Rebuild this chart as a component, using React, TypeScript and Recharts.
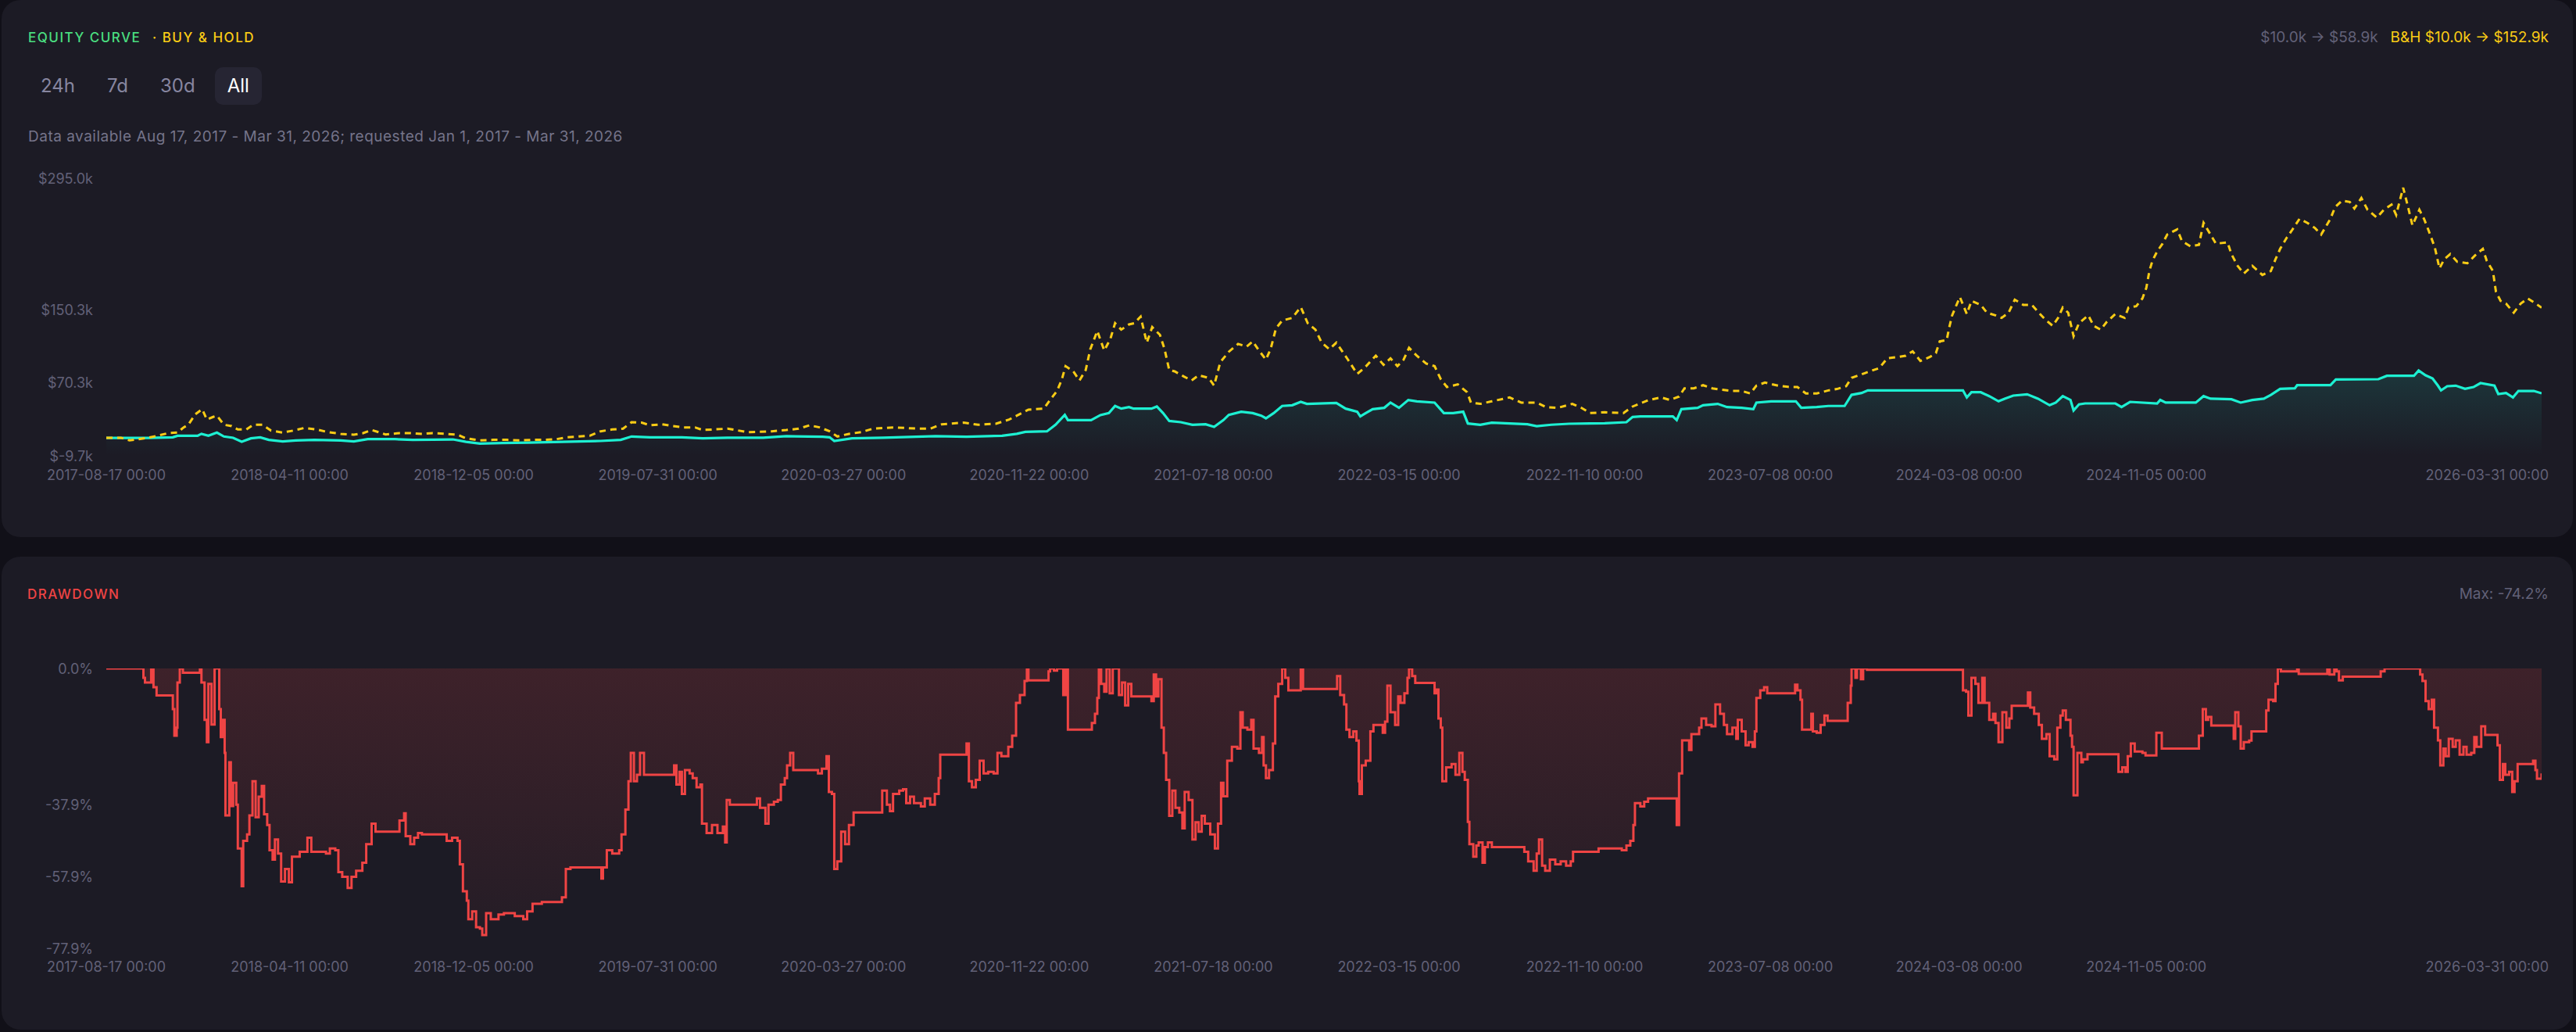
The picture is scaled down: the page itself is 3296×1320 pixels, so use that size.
import React from 'react';
import { ComposedChart, Line, Area, XAxis, YAxis } from 'recharts';

// ---------- tick labels ----------
const START_DATE = '2017-08-17';
const xTickLabels = [
  '2017-08-17 00:00', '2018-04-11 00:00', '2018-12-05 00:00', '2019-07-31 00:00',
  '2020-03-27 00:00', '2020-11-22 00:00', '2021-07-18 00:00', '2022-03-15 00:00',
  '2022-11-10 00:00', '2023-07-08 00:00', '2024-03-08 00:00', '2024-11-05 00:00',
  '2026-03-31 00:00',
];
const equityTicks = [-9.7, 70.3, 150.3, 295.0];
const drawdownTicks = [0, -37.9, -57.9, -77.9];

// ---------- series (x = days since 2017-08-17, values in $k / %) ----------
const buyHoldDays = [
  0, 19, 30, 54, 66, 80, 92, 100, 106, 115,
  124, 130, 138, 143, 152, 162, 170, 181, 190, 202,
  213, 228, 242, 256, 272, 286, 303, 320, 332, 343,
  361, 379, 393, 408, 422, 439, 454, 465, 483, 500,
  518, 535, 552, 566, 582, 596, 611, 625, 639, 654,
  668, 679, 692, 703, 718, 732, 746, 761, 771, 803,
  829, 860, 879, 895, 909, 922, 935, 945, 960, 976,
  991, 1019, 1049, 1065, 1080, 1108, 1127, 1150, 1167, 1177,
  1192, 1212, 1220, 1229, 1235, 1240, 1250, 1258, 1266, 1272,
  1281, 1290, 1298, 1304, 1312, 1322, 1329, 1337, 1345, 1352,
  1362, 1368, 1374, 1381, 1393, 1403, 1412, 1425, 1432, 1440,
  1451, 1463, 1474, 1482, 1490, 1499, 1505, 1512, 1520, 1533,
  1544, 1553, 1563, 1571, 1581, 1590, 1598, 1605, 1617, 1627,
  1641, 1651, 1660, 1669, 1677, 1684, 1694, 1706, 1717, 1725,
  1733, 1747, 1759, 1764, 1776, 1791, 1814, 1829, 1849, 1861,
  1876, 1895, 1907, 1918, 1937, 1961, 1973, 1994, 2010, 2021,
  2033, 2040, 2052, 2064, 2076, 2087, 2102, 2114, 2125, 2133,
  2144, 2161, 2176, 2186, 2197, 2211, 2226, 2237, 2249, 2256,
  2273, 2292, 2302, 2315, 2326, 2335, 2345, 2357, 2365, 2370,
  2379, 2382, 2386, 2396, 2405, 2411, 2423, 2431, 2442, 2450,
  2459, 2467, 2478, 2489, 2498, 2506, 2516, 2523, 2529, 2536,
  2543, 2550, 2562, 2569, 2578, 2586, 2597, 2609, 2614, 2624,
  2632, 2637, 2641, 2645, 2651, 2658, 2664, 2677, 2683, 2694,
  2705, 2711, 2719, 2727, 2742, 2747, 2755, 2763, 2774, 2787,
  2798, 2804, 2810, 2819, 2825, 2835, 2845, 2855, 2863, 2875,
  2881, 2890, 2900, 2906, 2915, 2923, 2935, 2944, 2954, 2960,
  2969, 2975, 2981, 2990, 2996, 3002, 3010, 3016, 3022, 3030,
  3039, 3052, 3062, 3072, 3077, 3085, 3089, 3095, 3102, 3112,
  3121, 3130, 3138, 3148,
];
const buyHoldValues = [
  10.0, 10.1, 7.2, 10.1, 12.3, 15.2, 15.8, 21.5, 24.4, 35.8,
  41.5, 30.1, 33.0, 34.4, 24.4, 23.0, 19.2, 19.2, 24.4, 24.4,
  18.0, 15.8, 18.0, 20.9, 19.2, 16.4, 14.4, 13.5, 15.2, 18.6,
  13.8, 15.2, 15.2, 14.4, 15.2, 14.4, 13.5, 9.5, 7.2, 7.8,
  7.8, 7.2, 7.8, 7.8, 8.6, 10.6, 11.5, 12.3, 17.2, 19.2,
  20.1, 27.2, 26.7, 23.8, 24.9, 23.0, 21.5, 21.5, 18.6, 20.1,
  16.3, 17.2, 18.6, 20.1, 23.8, 21.5, 17.2, 11.5, 14.4, 16.3,
  20.1, 21.5, 20.1, 20.1, 24.9, 26.7, 24.4, 25.5, 30.1, 34.4,
  41.0, 42.1, 51.6, 61.6, 73.6, 88.7, 83.0, 73.0, 84.4, 107.3,
  127.4, 105.9, 118.8, 135.9, 128.8, 134.5, 135.9, 143.1, 114.5, 131.6,
  123.1, 107.3, 84.4, 83.0, 77.3, 73.0, 78.7, 75.8, 67.3, 93.0,
  104.5, 113.1, 110.2, 115.9, 105.9, 95.9, 107.3, 130.2, 138.8, 141.7,
  153.6, 135.9, 128.8, 114.5, 107.3, 114.5, 104.5, 95.9, 80.2, 87.3,
  100.2, 90.2, 97.3, 88.7, 95.9, 108.8, 100.2, 91.6, 88.7, 74.4,
  65.8, 68.7, 60.1, 48.7, 47.3, 50.1, 54.4, 48.7, 48.7, 43.8,
  42.9, 47.3, 42.9, 37.2, 38.1, 37.2, 44.4, 51.6, 54.4, 51.6,
  55.3, 64.4, 64.4, 67.8, 64.4, 63.0, 61.5, 61.5, 58.7, 67.3,
  70.7, 67.3, 65.8, 65.8, 58.7, 58.7, 62.1, 63.6, 66.7, 75.9,
  81.0, 86.7, 97.3, 98.7, 100.2, 105.0, 94.5, 98.7, 103.0, 115.9,
  117.3, 130.2, 144.5, 164.6, 146.0, 160.3, 156.0, 147.4, 144.5, 141.7,
  147.4, 161.7, 156.0, 156.0, 147.4, 140.2, 133.0, 141.7, 153.1, 147.4,
  121.6, 135.9, 144.5, 133.0, 128.8, 137.4, 146.0, 141.7, 153.1, 154.5,
  163.1, 174.6, 193.2, 204.6, 214.6, 223.2, 233.2, 238.9, 226.1, 220.3,
  221.8, 246.1, 234.6, 223.2, 224.6, 211.8, 198.9, 190.3, 198.9, 188.9,
  193.2, 206.0, 217.5, 230.4, 237.5, 250.4, 246.1, 240.4, 233.2, 250.4,
  263.3, 270.4, 269.0, 261.8, 273.3, 260.4, 251.8, 260.4, 266.1, 254.7,
  284.7, 264.7, 243.2, 260.4, 250.4, 237.5, 218.9, 196.0, 206.0, 211.8,
  203.2, 201.7, 210.3, 217.5, 204.6, 193.2, 170.3, 160.3, 157.4, 147.4,
  157.4, 163.1, 158.8, 152.9,
];

const equityDays = [
  0, 54, 86, 92, 118, 123, 132, 143, 152, 164,
  175, 187, 199, 210, 228, 245, 269, 303, 320, 338,
  373, 396, 448, 465, 483, 512, 546, 590, 639, 665,
  679, 703, 744, 771, 803, 849, 879, 926, 935, 941,
  964, 1004, 1072, 1112, 1158, 1177, 1188, 1216, 1227, 1239,
  1243, 1273, 1285, 1296, 1304, 1312, 1322, 1328, 1351, 1358,
  1366, 1374, 1389, 1404, 1421, 1432, 1444, 1451, 1467, 1482,
  1493, 1499, 1509, 1520, 1533, 1544, 1552, 1590, 1602, 1617,
  1621, 1628, 1637, 1652, 1660, 1671, 1683, 1694, 1717, 1729,
  1741, 1754, 1760, 1776, 1791, 1837, 1849, 1868, 1891, 1937,
  1965, 1973, 1983, 2025, 2030, 2036, 2057, 2064, 2083, 2095,
  2114, 2129, 2133, 2152, 2184, 2191, 2211, 2226, 2247, 2256,
  2269, 2277, 2400, 2405, 2411, 2423, 2434, 2446, 2454, 2465,
  2483, 2497, 2512, 2520, 2529, 2539, 2543, 2550, 2558, 2597,
  2605, 2616, 2651, 2655, 2662, 2701, 2711, 2720, 2747, 2759,
  2774, 2789, 2798, 2810, 2829, 2832, 2875, 2882, 2937, 2948,
  2983, 2989, 2998, 3007, 3014, 3018, 3026, 3037, 3049, 3060,
  3069, 3087, 3092, 3102, 3111, 3118, 3138, 3148,
];
const equityValues = [
  10.0, 10.0, 10.6, 12.3, 12.3, 14.4, 12.3, 15.8, 11.5, 10.1,
  5.7, 9.5, 10.6, 7.8, 6.1, 7.2, 7.8, 7.2, 6.1, 8.6,
  8.6, 7.8, 8.3, 5.7, 3.7, 4.3, 4.8, 5.7, 6.6, 7.8,
  11.5, 10.6, 10.6, 9.5, 10.1, 10.1, 11.8, 11.2, 10.6, 6.6,
  9.5, 10.1, 11.8, 11.2, 12.3, 14.4, 16.6, 17.2, 24.4, 35.2,
  29.5, 29.5, 35.0, 37.2, 45.0, 42.1, 43.8, 42.1, 42.1, 44.4,
  37.2, 28.6, 27.2, 24.4, 24.9, 22.1, 29.5, 35.2, 38.7, 37.2,
  34.4, 31.5, 37.2, 45.0, 45.8, 49.5, 47.3, 48.4, 42.1, 38.7,
  33.5, 37.2, 41.5, 43.0, 48.7, 43.0, 51.6, 50.1, 48.7, 37.2,
  37.2, 38.7, 25.8, 24.4, 26.7, 24.9, 22.9, 24.4, 25.5, 26.1,
  27.2, 32.9, 33.5, 33.5, 29.5, 41.5, 43.0, 45.8, 47.3, 43.8,
  43.0, 41.5, 48.7, 50.1, 50.1, 43.0, 43.8, 45.0, 45.0, 57.2,
  59.3, 62.1, 62.1, 54.4, 60.1, 60.1, 55.8, 50.1, 53.0, 56.4,
  57.8, 53.0, 45.8, 48.7, 55.8, 51.6, 40.1, 46.7, 47.8, 47.8,
  43.8, 49.5, 47.8, 51.6, 48.7, 48.7, 55.8, 53.0, 52.4, 48.7,
  51.6, 53.0, 57.2, 63.8, 64.4, 67.8, 67.8, 74.1, 74.4, 78.1,
  78.1, 83.9, 78.7, 75.3, 67.3, 62.1, 66.7, 67.3, 63.8, 65.8,
  70.1, 67.3, 58.1, 59.3, 54.4, 61.5, 61.5, 58.9,
];

const drawdownDays = [
  0, 48, 50, 58, 61, 65, 86, 88, 91, 92,
  95, 99, 121, 123, 127, 130, 132, 136, 140, 146,
  148, 151, 153, 154, 159, 161, 164, 168, 170, 175,
  177, 182, 185, 189, 193, 197, 201, 204, 208, 211,
  215, 218, 222, 226, 231, 236, 240, 250, 260, 265,
  284, 289, 296, 300, 305, 312, 317, 323, 331, 336,
  343, 348, 379, 385, 387, 393, 398, 403, 408, 440,
  447, 454, 457, 461, 466, 468, 473, 478, 483, 486,
  491, 497, 507, 514, 528, 539, 544, 551, 563, 589,
  594, 600, 640, 642, 647, 654, 663, 666, 671, 675,
  678, 682, 686, 690, 695, 734, 737, 741, 744, 748,
  754, 758, 763, 768, 770, 776, 783, 790, 797, 800,
  802, 806, 841, 845, 852, 856, 863, 868, 872, 877,
  880, 884, 888, 920, 925, 931, 934, 938, 941, 945,
  950, 955, 960, 966, 1003, 1009, 1013, 1017, 1025, 1030,
  1034, 1039, 1044, 1053, 1058, 1065, 1071, 1076, 1078, 1112,
  1115, 1119, 1124, 1129, 1134, 1140, 1147, 1152, 1157, 1166,
  1171, 1176, 1181, 1187, 1190, 1192, 1218, 1220, 1225, 1229,
  1237, 1240, 1243, 1274, 1278, 1281, 1283, 1286, 1290, 1293,
  1297, 1301, 1309, 1313, 1317, 1321, 1325, 1351, 1354, 1357,
  1360, 1364, 1367, 1370, 1374, 1378, 1382, 1387, 1391, 1394,
  1399, 1404, 1408, 1412, 1416, 1420, 1427, 1433, 1437, 1441,
  1444, 1449, 1455, 1462, 1466, 1469, 1475, 1480, 1483, 1490,
  1494, 1496, 1499, 1503, 1508, 1511, 1515, 1520, 1524, 1528,
  1544, 1547, 1591, 1595, 1600, 1603, 1607, 1612, 1616, 1619,
  1620, 1623, 1628, 1634, 1638, 1650, 1653, 1656, 1660, 1666,
  1670, 1673, 1678, 1682, 1684, 1688, 1692, 1717, 1720, 1722,
  1725, 1727, 1732, 1739, 1744, 1749, 1753, 1756, 1760, 1762,
  1767, 1771, 1774, 1779, 1782, 1786, 1791, 1833, 1838, 1845,
  1849, 1852, 1856, 1860, 1866, 1873, 1880, 1887, 1893, 1896,
  1929, 1959, 1965, 1970, 1974, 1976, 1983, 1988, 1993, 2030,
  2033, 2037, 2046, 2049, 2059, 2062, 2068, 2075, 2080, 2086,
  2091, 2095, 2102, 2107, 2109, 2114, 2119, 2123, 2128, 2131,
  2133, 2138, 2143, 2147, 2183, 2186, 2190, 2192, 2204, 2206,
  2211, 2216, 2221, 2225, 2251, 2255, 2256, 2261, 2263, 2268,
  2271, 2276, 2400, 2404, 2407, 2411, 2416, 2420, 2425, 2428,
  2434, 2439, 2442, 2446, 2451, 2456, 2460, 2463, 2484, 2487,
  2492, 2498, 2502, 2508, 2512, 2518, 2522, 2526, 2529, 2533,
  2539, 2541, 2543, 2548, 2553, 2555, 2561, 2601, 2606, 2610,
  2613, 2617, 2622, 2632, 2636, 2650, 2657, 2705, 2710, 2714,
  2717, 2721, 2750, 2752, 2756, 2759, 2763, 2770, 2773, 2792,
  2795, 2801, 2804, 2807, 2811, 2832, 2834, 2871, 2874, 2880,
  2883, 2886, 2891, 2940, 2945, 2991, 2994, 2998, 3002, 3006,
  3009, 3014, 3017, 3021, 3024, 3028, 3033, 3037, 3042, 3047,
  3051, 3057, 3061, 3064, 3070, 3075, 3091, 3094, 3098, 3101,
  3106, 3110, 3113, 3117, 3137, 3140, 3142, 3148,
];
const drawdownValues = [
  0, -2.6, -3.9, 0, -5.2, -7.5, -11.3, -18.7, -16.5, -3.9,
  0, -1.2, 0, -3.9, -14.3, -20.5, -4.3, -15.6, 0, -11.3,
  -19.1, -14.3, -23.5, -40.9, -26.1, -38.3, -31.8, -37.9, -50.1, -60.6,
  -48.0, -46.2, -40.9, -31.4, -41.4, -35.7, -32.7, -40.6, -43.6, -50.6,
  -53.2, -47.6, -51.5, -59.3, -55.8, -59.5, -52.4, -51.0, -47.1, -51.0,
  -51.5, -50.1, -50.6, -56.7, -58.0, -61.1, -58.0, -56.3, -54.1, -48.9,
  -43.2, -45.4, -42.3, -40.3, -46.7, -48.9, -47.1, -45.8, -46.2, -48.0,
  -47.1, -48.0, -54.5, -62.0, -64.6, -69.8, -67.6, -72.0, -72.4, -74.2,
  -68.1, -69.8, -68.5, -68.1, -68.9, -69.8, -67.6, -65.5, -65.0, -63.7,
  -55.8, -55.4, -58.5, -55.4, -50.6, -51.5, -50.6, -46.2, -39.3, -31.4,
  -23.5, -31.4, -29.6, -23.5, -29.6, -27.0, -32.3, -28.8, -34.9, -28.3,
  -29.2, -30.5, -33.1, -32.3, -43.2, -45.8, -43.6, -45.8, -44.0, -48.4,
  -36.6, -37.9, -36.2, -38.8, -43.2, -37.9, -37.1, -36.6, -32.3, -30.5,
  -27.0, -23.5, -28.3, -29.2, -27.9, -24.4, -34.4, -34.9, -55.8, -53.7,
  -45.4, -48.9, -43.6, -40.1, -34.0, -37.9, -39.7, -34.9, -34.0, -33.6,
  -37.5, -35.7, -37.5, -38.4, -36.2, -37.9, -34.9, -30.5, -24.0, -20.9,
  -31.4, -33.1, -31.0, -25.7, -29.2, -28.8, -29.2, -23.5, -24.4, -21.8,
  -18.7, -9.6, -7.4, -3.5, 0, -3.3, -0.8, 0, -0.6, 0,
  -7.4, 0, -17.0, -15.2, -12.6, -8.2, 0, -4.3, -6.5, 0,
  -6.9, 0, -7.4, -3.9, -10.3, -4.3, -7.8, -9.1, -1.7, -7.8,
  -3.0, -16.5, -23.5, -31.0, -41.0, -34.0, -38.8, -40.1, -44.5, -34.4,
  -36.6, -47.6, -42.8, -45.4, -41.0, -43.2, -46.2, -50.1, -43.2, -31.8,
  -35.6, -25.7, -21.8, -22.3, -12.2, -16.5, -17.0, -14.3, -22.3, -23.5,
  -19.1, -27.0, -30.5, -28.3, -20.9, -7.8, -4.3, 0, -2.6, -6.1,
  0, -5.7, -2.1, -7.4, -10.0, -17.0, -19.1, -17.5, -20.1, -31.4,
  -34.9, -27.0, -25.7, -17.5, -15.7, -17.9, -14.8, -4.8, -12.2, -15.7,
  -7.8, -9.6, -6.9, -2.6, 0, -2.1, -4.0, -6.9, -5.9, -13.9,
  -16.5, -31.4, -27.5, -26.6, -29.6, -23.5, -28.8, -31.0, -42.7, -48.9,
  -52.4, -49.3, -48.4, -54.1, -49.7, -48.4, -49.7, -51.0, -53.7, -56.3,
  -51.5, -47.6, -54.9, -56.3, -53.2, -54.5, -53.7, -54.9, -53.7, -51.0,
  -50.1, -50.6, -49.3, -48.0, -43.6, -37.5, -38.4, -37.1, -36.2, -43.6,
  -29.2, -20.0, -22.7, -18.3, -16.5, -13.9, -15.7, -16.1, -10.0, -12.6,
  -15.7, -18.3, -16.5, -19.6, -14.3, -17.5, -21.4, -20.5, -21.8, -17.5,
  -8.2, -6.1, -5.2, -6.9, -4.5, -6.1, -8.7, -17.0, -12.6, -17.5,
  -17.9, -15.7, -13.1, -14.6, -9.6, -4.8, 0, -2.6, 0, -3.0,
  0, -0.4, -6.1, -6.5, -13.1, -2.6, -4.3, -9.6, -2.6, -9.6,
  -14.3, -12.6, -15.2, -20.5, -12.2, -16.5, -13.9, -10.4, -6.7, -10.9,
  -12.6, -15.7, -19.6, -18.3, -24.4, -25.3, -16.5, -13.1, -11.7, -14.3,
  -18.7, -21.8, -35.3, -23.5, -26.1, -25.3, -23.9, -28.8, -27.5, -28.8,
  -24.4, -20.9, -23.1, -23.5, -24.2, -17.9, -22.3, -18.7, -11.3, -14.3,
  -13.5, -15.9, -19.6, -12.2, -16.1, -22.3, -20.5, -20.1, -17.5, -11.7,
  -8.7, -9.1, -4.3, 0, -0.8, 0, -1.5, 0, -1.7, 0,
  -0.8, -3.3, -2.3, -0.8, 0, -1.7, -3.5, -9.1, -11.3, -8.7,
  -16.5, -20.0, -27.0, -22.3, -24.4, -19.6, -21.8, -20.0, -24.0, -21.8,
  -24.0, -23.5, -19.1, -21.8, -16.1, -18.5, -21.4, -31.0, -26.6, -29.6,
  -28.8, -34.4, -31.4, -26.6, -25.7, -28.3, -30.7, -29.2,
];

// ---------- derived tables ----------
const dayOf = (label: string) =>
  Math.round((Date.parse(label.slice(0, 10) + 'T00:00:00Z') - Date.parse(START_DATE + 'T00:00:00Z')) / 86400000);
const xTickDays = xTickLabels.map(dayOf);
const lastTickDay = xTickDays[xTickDays.length - 1];
const labelByDay = new Map<number, string>(xTickDays.map((d, i) => [d, xTickLabels[i]]));

const equityData = equityDays.map((d, i) => ({ d, v: equityValues[i] }));
const buyHoldData = buyHoldDays.map((d, i) => ({ d, v: buyHoldValues[i] }));
const drawdownData = drawdownDays.map((d, i) => ({ d, v: drawdownValues[i] }));

// ---------- styling ----------
const FONT = 'Inter, "Noto Sans", sans-serif';
const PAGE_BG = '#111018';
const CARD_BG = '#1c1b25';
const AXIS_TEXT = '#626178';
const TEAL = '#1df0d2';
const YELLOW = '#facc15';
const RED = '#ef4444';
const GREEN = '#4ade80';

const XTick = (props: any) => {
  const { x, y, payload } = props;
  const isLast = payload.value === lastTickDay;
  return (
    <text
      x={isLast ? x + 9 : x}
      y={y}
      dy={6.5}
      textAnchor={isLast ? 'end' : 'middle'}
      fill={AXIS_TEXT}
      fontSize={18}
      fontFamily={FONT}
    >
      {labelByDay.get(payload.value)}
    </text>
  );
};

const makeYTick = (fmt: (v: number) => string) => (props: any) => {
  const { x, y, payload } = props;
  return (
    <text x={x} y={y} dy={6.5} textAnchor="end" fill={AXIS_TEXT} fontSize={18} fontFamily={FONT}>
      {fmt(payload.value)}
    </text>
  );
};
const EquityYTick = makeYTick((v) => `$${v.toFixed(1)}k`);
const DrawdownYTick = makeYTick((v) => `${v.toFixed(1)}%`);

const cardStyle = (top: number, height: number): React.CSSProperties => ({
  position: 'absolute',
  left: 2,
  top,
  width: 3290,
  height,
  background: CARD_BG,
  borderRadius: 24,
});

const textAt = (left: number | undefined, right: number | undefined, centerY: number, extra: React.CSSProperties = {}): React.CSSProperties => ({
  position: 'absolute',
  left,
  right,
  top: centerY - 12,
  height: 24,
  lineHeight: '24px',
  fontSize: 19,
  whiteSpace: 'nowrap',
  ...extra,
});

const ranges = ['24h', '7d', '30d', 'All'];

export default function App() {
  return (
    <div
      style={{
        position: 'relative',
        width: 3296,
        height: 1320,
        background: PAGE_BG,
        overflow: 'hidden',
        fontFamily: FONT,
      }}
    >
      <style>{`body{margin:0;background:${PAGE_BG};}`}</style>

      {/* ---------- Equity card ---------- */}
      <div style={cardStyle(0, 687)} />
      <div style={textAt(36, undefined, 48, { color: GREEN, fontSize: 17, letterSpacing: 1.5, fontWeight: 500 })}>
        EQUITY CURVE
      </div>
      <div style={textAt(195, undefined, 48, { color: YELLOW, fontSize: 17, letterSpacing: 1.5, fontWeight: 500 })}>
        · BUY &amp; HOLD
      </div>
      <div style={textAt(undefined, 35, 48, { display: 'flex', gap: 16 })}>
        <span style={{ color: AXIS_TEXT }}>$10.0k → $58.9k</span>
        <span style={{ color: YELLOW }}>B&amp;H $10.0k → $152.9k</span>
      </div>
      <div style={{ position: 'absolute', left: 36, top: 86, height: 48, display: 'flex', gap: 9 }}>
        {ranges.map((r) => (
          <div
            key={r}
            style={{
              height: 48,
              lineHeight: '48px',
              padding: '0 16px',
              fontSize: 24,
              borderRadius: 10,
              color: r === 'All' ? '#ffffff' : '#8786a0',
              background: r === 'All' ? '#262533' : 'transparent',
            }}
          >
            {r}
          </div>
        ))}
      </div>
      <div style={textAt(36, undefined, 175, { color: '#75748a', letterSpacing: 0.5 })}>
        Data available Aug 17, 2017 - Mar 31, 2026; requested Jan 1, 2017 - Mar 31, 2026
      </div>

      <div style={{ position: 'absolute', left: 0, top: 0 }}>
        <ComposedChart
          width={3296}
          height={687}
          data={equityData}
          margin={{ top: 228, right: 44, bottom: 64, left: 36 }}
        >
          <defs>
            <linearGradient id="eqFill" x1="0" y1="0" x2="0" y2="1">
              <stop offset="0%" stopColor={TEAL} stopOpacity={0.13} />
              <stop offset="100%" stopColor={TEAL} stopOpacity={0} />
            </linearGradient>
          </defs>
          <XAxis
            type="number"
            dataKey="d"
            domain={[0, lastTickDay]}
            ticks={xTickDays}
            interval={0}
            tick={XTick}
            tickSize={0}
            tickMargin={24}
            axisLine={false}
            tickLine={false}
            height={40}
            allowDataOverflow
          />
          <YAxis
            type="number"
            domain={[equityTicks[0], equityTicks[equityTicks.length - 1]]}
            ticks={equityTicks}
            interval={0}
            tick={EquityYTick}
            tickSize={0}
            tickMargin={17}
            axisLine={false}
            tickLine={false}
            width={100}
            allowDataOverflow
          />
          <Area
            dataKey="v"
            type="linear"
            stroke={TEAL}
            strokeWidth={3.2}
            fill="url(#eqFill)"
            fillOpacity={1}
            baseValue="dataMin"
            dot={false}
            activeDot={false}
            isAnimationActive={false}
          />
          <Line
            data={buyHoldData}
            dataKey="v"
            type="linear"
            stroke={YELLOW}
            strokeWidth={3}
            strokeDasharray="8 6"
            dot={false}
            activeDot={false}
            isAnimationActive={false}
          />
        </ComposedChart>
      </div>

      {/* ---------- Drawdown card ---------- */}
      <div style={cardStyle(712, 605)} />
      <div style={textAt(35, undefined, 760, { color: RED, fontSize: 17, letterSpacing: 1.5, fontWeight: 500 })}>
        DRAWDOWN
      </div>
      <div style={textAt(undefined, 35, 760, { color: AXIS_TEXT })}>Max: -74.2%</div>

      <div style={{ position: 'absolute', left: 0, top: 712 }}>
        <ComposedChart
          width={3296}
          height={605}
          data={drawdownData}
          margin={{ top: 143, right: 44, bottom: 64, left: 36 }}
        >
          <defs>
            <linearGradient id="ddFill" x1="0" y1="0" x2="0" y2="1">
              <stop offset="0%" stopColor={RED} stopOpacity={0.16} />
              <stop offset="100%" stopColor={RED} stopOpacity={0.04} />
            </linearGradient>
          </defs>
          <XAxis
            type="number"
            dataKey="d"
            domain={[0, lastTickDay]}
            ticks={xTickDays}
            interval={0}
            tick={XTick}
            tickSize={0}
            tickMargin={23}
            axisLine={false}
            tickLine={false}
            height={40}
            allowDataOverflow
          />
          <YAxis
            type="number"
            domain={[drawdownTicks[drawdownTicks.length - 1], drawdownTicks[0]]}
            ticks={drawdownTicks}
            interval={0}
            tick={DrawdownYTick}
            tickSize={0}
            tickMargin={17}
            axisLine={false}
            tickLine={false}
            width={100}
            allowDataOverflow
          />
          <Area
            dataKey="v"
            type="stepAfter"
            stroke={RED}
            strokeWidth={3}
            fill="url(#ddFill)"
            fillOpacity={1}
            baseValue={0}
            dot={false}
            activeDot={false}
            isAnimationActive={false}
          />
        </ComposedChart>
      </div>
    </div>
  );
}
